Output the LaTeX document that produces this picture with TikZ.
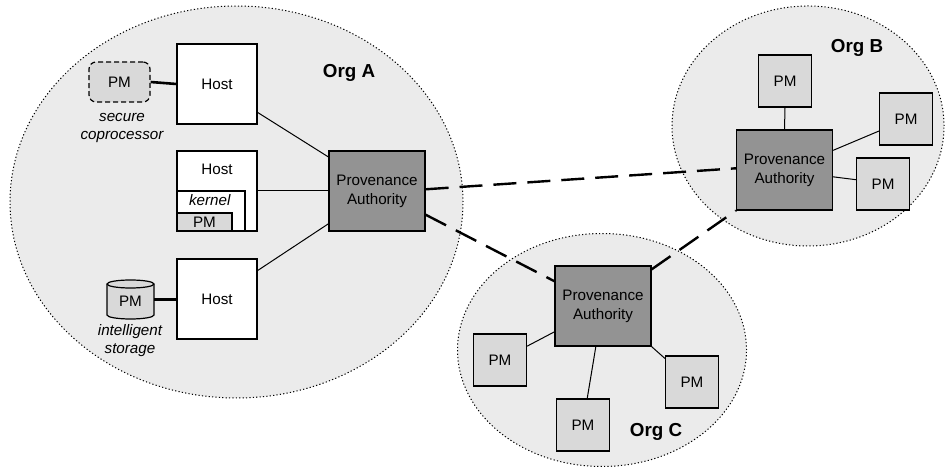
\documentclass[tikz,border=0pt]{standalone}
\usepackage{fontspec}
\setmainfont{Liberation Sans}
\usetikzlibrary{calc}
\definecolor{orgfill}{HTML}{EBEBEB}
\definecolor{pmfill}{HTML}{D9D9D9}
\definecolor{pafill}{HTML}{939393}
\begin{document}
\begin{tikzpicture}[x=0.5pt,y=-0.5pt,
  org/.style={draw, fill=orgfill, line width=0.5pt, dash pattern=on 0.6pt off 1.1pt},
  box/.style={draw, line width=0.6pt, inner sep=0pt, font=\fontsize{7.6}{9.5}\selectfont},
  host/.style={box, fill=white, minimum width=40pt, minimum height=40pt},
  pa/.style={box, fill=pafill, minimum width=48pt, minimum height=40pt, align=center},
  pmbox/.style={box, fill=pmfill, minimum width=26.5pt, minimum height=26pt},
  orglabel/.style={font=\bfseries\fontsize{9.4}{11}\selectfont},
  note/.style={font=\itshape\fontsize{7.6}{9}\selectfont, align=center},
  link/.style={line width=0.5pt},
  heavy/.style={line width=1.3pt},
  fed/.style={line width=1.2pt, dash pattern=on 11.5pt off 5.5pt}
]
\useasboundingbox (0,0) rectangle (952,469);

% organisations
\path[org] (236.5,202) ellipse [x radius=113.25pt, y radius=98pt];
\path[org] (808,126) ellipse [x radius=68pt, y radius=60pt];
\path[org] (602,350) ellipse [x radius=72.25pt, y radius=58.25pt];

\node[orglabel] (lA) at (349,73) {Org A};
\node[orglabel] (lB) at (857,48) {Org B};
\node[orglabel] (lC) at (656,432) {Org C};

% Org A
\node[host] (h1) at (217,84) {Host};
\node[host] (h2) at (217,191) {};
\node[box, draw=none, anchor=center] (h2t) at (217,169) {Host};
\node[box, fill=white, minimum width=34pt, minimum height=20pt] (kern) at (211,211) {};
\node[note, anchor=west] (kt) at (182,200) {kernel};
\node[box, fill=pmfill, minimum width=27.5pt, minimum height=9pt] (kpm) at (204.5,222) {PM};
\node[host] (h3) at (217,299) {Host};

\node[box, fill=pmfill, minimum width=30.5pt, minimum height=20pt, rounded corners=3.5pt,
      dash pattern=on 2.5pt off 1.5pt] (spm) at (119.5,82) {PM};
\node[note] (snote) at (122,128) {secure\\coprocessor};

% cylinder (intelligent storage)
\node[inner sep=0pt, minimum width=23.5pt, minimum height=19.5pt] (cyl) at (130.5,299.5) {};
\filldraw[fill=pmfill, line width=0.6pt]
  (107,284) -- (107,315) arc [start angle=180, end angle=360, x radius=11.75pt, y radius=2pt]
  -- (154,284) arc [start angle=0, end angle=180, x radius=11.75pt, y radius=2pt] -- cycle;
\draw[line width=0.6pt] (107,284) arc [start angle=180, end angle=360, x radius=11.75pt, y radius=2pt];
\node[box, draw=none] (cylt) at (130.5,301) {PM};
\node[note] (inote) at (130,341) {intelligent\\storage};

\node[pa] (paA) at (377,191) {Provenance\\Authority};

\draw[heavy] (spm.east) -- (h1.west);
\draw[heavy] (cyl.east) -- (h3.west |- cyl.east);
\draw[link] (h1.-35) -- (paA.145.5);
\draw[link] (h2.east) -- (paA.west);
\draw[link] (h3.35) -- (paA.214.5);

% Org B
\node[pa] (paB) at (784.5,170) {Provenance\\Authority};
\node[pmbox] (b1) at (785,81) {PM};
\node[pmbox] (b2) at (906,119) {PM};
\node[pmbox] (b3) at (883,184) {PM};
\draw[link] (b1.south) -- (paB.north);
\draw[link] (paB.22.8) -- (b2.204);
\draw[link] (paB.-8.4) -- (b3.171.6);

% Org C
\node[pa] (paC) at (603,306) {Provenance\\Authority};
\node[pmbox] (c1) at (500,360) {PM};
\node[pmbox] (c2) at (583,425) {PM};
\node[pmbox] (c3) at (692,382) {PM};
\draw[link] (paC.208) -- (c1.27.4);
\draw[link] (paC.260) -- (c2.81.6);
\draw[link] (paC.south east) -- (c3.139.6);

% federation links
\begin{scope}[on background layer/.style={}]
\end{scope}
\draw[fed] (paA.2) -- (paB.178);
\draw[fed] (paA.-26.6) -- (paC.153);
\draw[fed] (paC.37) -- (paB.south west);
\end{tikzpicture}
\end{document}
